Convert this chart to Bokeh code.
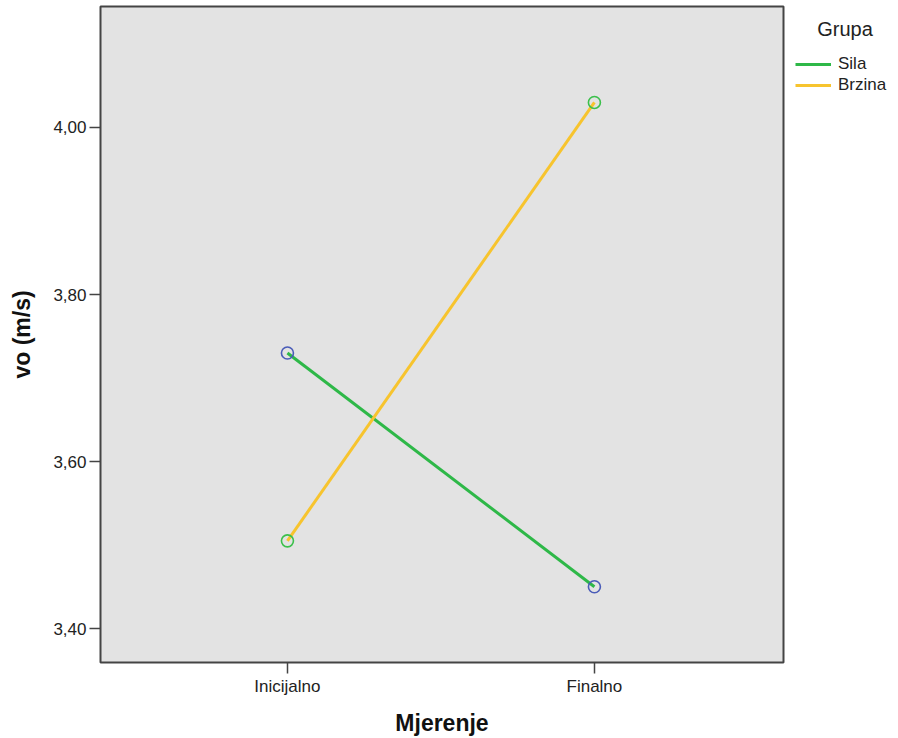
from bokeh.plotting import figure
from bokeh.models import FixedTicker, Legend, LegendItem, Range1d
from bokeh.embed import file_html
from bokeh.resources import INLINE

# ---- data ----
categories = ["Inicijalno", "Finalno"]
groups = ["Sila", "Brzina"]
sila_values = [3.73, 3.45]
brzina_values = [3.505, 4.03]
y_ticks = [3.40, 3.60, 3.80, 4.00]
y_tick_labels = ["3,40", "3,60", "3,80", "4,00"]
x_label = "Mjerenje"
y_label = "vo (m/s)"
legend_title = "Grupa"

FONT = "Liberation Sans"
x_pos = list(range(len(categories)))

p = figure(frame_width=683, frame_height=656, output_backend="svg", toolbar_location=None,
           x_range=Range1d(-0.609, 1.616), y_range=Range1d(3.3593, 4.1449),
           min_border_left=100, min_border_right=115, min_border_top=6,
           min_border_bottom=76)

p.background_fill_color = "#e3e3e3"
p.border_fill_color = "white"
p.outline_line_color = "#444444"
p.outline_line_width = 2
p.xgrid.visible = False
p.ygrid.visible = False

# axes
p.xaxis.ticker = FixedTicker(ticks=x_pos)
p.xaxis.major_label_overrides = {i: c for i, c in zip(x_pos, categories)}
p.yaxis.ticker = FixedTicker(ticks=y_ticks)
p.yaxis.major_label_overrides = {t: l for t, l in zip(y_ticks, y_tick_labels)}
for ax in (p.xaxis[0], p.yaxis[0]):
    ax.axis_line_color = None
    ax.major_tick_line_color = "#444444"
    ax.major_tick_line_width = 1.5
    ax.major_tick_out = 11
    ax.major_tick_in = 0
    ax.minor_tick_line_color = None
    ax.major_label_text_font = FONT
    ax.major_label_text_font_size = "17px"
    ax.major_label_text_color = "#222222"
    ax.axis_label_text_font = FONT
    ax.axis_label_text_font_size = "23px"
    ax.axis_label_text_font_style = "bold"
    ax.axis_label_text_color = "#111111"
p.xaxis.axis_label = x_label
p.yaxis.axis_label = y_label
p.xaxis.major_label_standoff = 3
p.xaxis.axis_label_standoff = 11
p.yaxis.major_label_standoff = 3
p.yaxis.axis_label_standoff = 15

# lines + markers
line_colors = ["#2eb848", "#f7c42e"]
marker_colors = ["#4a5cb8", "#3cc04c"]
renderers = []
for vals, lc, mc in zip([sila_values, brzina_values], line_colors, marker_colors):
    r = p.line(x_pos, vals, line_color=lc, line_width=3)
    renderers.append(r)
    p.scatter(x_pos, vals, marker="circle", size=12, fill_color=None,
              line_color=mc, line_width=1.6)

legend = Legend(items=[LegendItem(label=g, renderers=[r]) for g, r in zip(groups, renderers)],
                location="top_left")
legend.title = "\u00a0\u00a0\u00a0\u00a0" + legend_title
legend.title_text_font = FONT
legend.title_text_font_size = "20px"
legend.title_text_font_style = "normal"
legend.title_text_color = "#222222"
legend.title_standoff = 13
legend.background_fill_alpha = 0
legend.border_line_color = None
legend.padding = 0
legend.margin = 12
legend.spacing = 1
legend.glyph_width = 36
legend.glyph_height = 20
legend.label_height = 20
legend.label_standoff = 7
legend.label_text_font = FONT
legend.label_text_font_size = "17px"
legend.label_text_color = "#222222"
p.add_layout(legend, "right")

open("out.html", "w").write(file_html(p, INLINE))
